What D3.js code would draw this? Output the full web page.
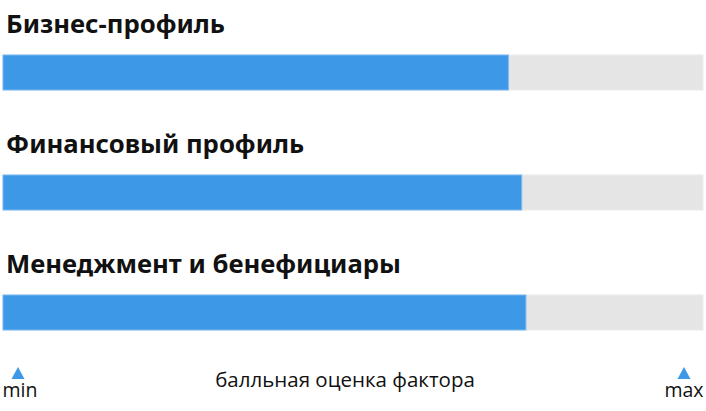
<!DOCTYPE html>
<html>
<head>
<meta charset="utf-8">
<script src="https://cdn.jsdelivr.net/npm/d3@7"></script>
<style>
  html, body { margin: 0; padding: 0; background: #ffffff; }
  svg { display: block; }
</style>
</head>
<body>
<div id="chart"></div>
<script>
// ---- data ----
const categories = ["Бизнес-профиль", "Финансовый профиль", "Менеджмент и бенефициары"];
const values = [72.2, 74.1, 74.7];
const scaleMin = 0;
const scaleMax = 100;
const axisLabels = ["min", "max"];
const axisTitle = "балльная оценка фактора";

const W = 706, H = 411;
const svg = d3.select("#chart").append("svg").attr("width", W).attr("height", H);

const x = d3.scaleLinear().domain([scaleMin, scaleMax]).range([3, 703]);
const y = d3.scaleBand().domain(categories).range([0, 360]).paddingInner(0).paddingOuter(0);
const barTop = 55, barH = 35;

const g = svg.selectAll("g.row").data(categories).join("g")
  .attr("class", "row")
  .attr("transform", d => `translate(0,${y(d)})`);

g.append("text")
  .attr("x", 6).attr("y", 33)
  .attr("font-family", "'Noto Sans', sans-serif")
  .attr("font-weight", 700)
  .attr("font-size", 25.7)
  .attr("fill", "#111111")
  .text(d => d);

g.append("rect")
  .attr("x", x(scaleMin)).attr("y", barTop)
  .attr("width", x(scaleMax) - x(scaleMin)).attr("height", barH)
  .attr("fill", "#e5e5e5").attr("stroke", "#ececec").attr("stroke-width", 1);

g.append("rect")
  .attr("x", x(scaleMin)).attr("y", barTop)
  .attr("width", (d, i) => x(values[i]) - x(scaleMin)).attr("height", barH)
  .attr("fill", "#3d99e8").attr("stroke", "#7ab9f0").attr("stroke-width", 1);

// bottom axis markers
const markerX = [x(scaleMin) + 15, x(scaleMax) - 19];
svg.selectAll("path.tri").data(markerX).join("path")
  .attr("class", "tri")
  .attr("d", d => `M${d - 6.5},379L${d + 6.5},379L${d},367Z`)
  .attr("fill", "#3d99e8");

svg.selectAll("text.lim").data(axisLabels).join("text")
  .attr("class", "lim")
  .attr("x", (d, i) => markerX[i] + (i === 0 ? 2 : 0)).attr("y", 397)
  .attr("text-anchor", "middle")
  .attr("font-family", "'Open Sans', sans-serif")
  .attr("font-size", 19.5)
  .attr("fill", "#111111")
  .text(d => d);

svg.append("text")
  .attr("x", 345).attr("y", 387)
  .attr("text-anchor", "middle")
  .attr("font-family", "'Open Sans', sans-serif")
  .attr("font-size", 20.5)
  .attr("fill", "#111111")
  .text(axisTitle);
</script>
</body>
</html>
